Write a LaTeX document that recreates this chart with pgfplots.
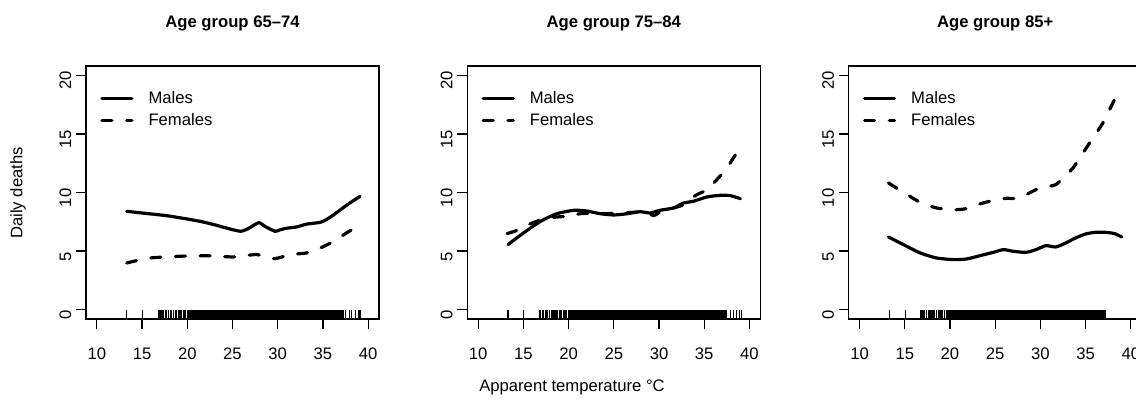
\documentclass[border=0pt]{standalone}
\usepackage{fontspec}
\setmainfont{Liberation Sans}
\usepackage{pgfplots}
\pgfplotsset{compat=1.18}

% apparent temperature of the study days (rug)
\newcommand\rugcore{16.8,16.9,17.1,17.2,17.4,17.6,17.7,17.9,18.1,18.2,18.3,18.5,18.7,18.8,19.0,19.1,19.2,19.4,19.6,19.7,19.8,20.0,20.1,20.2,20.3,20.4,
20.5,20.6,20.7,20.8,20.9,
21.0,21.1,21.2,21.3,21.4,21.5,21.6,21.7,21.8,21.9,
22.0,22.1,22.2,22.3,22.4,22.5,22.6,22.7,22.8,22.9,
23.0,23.1,23.2,23.3,23.4,23.5,23.6,23.7,23.8,23.9,
24.0,24.1,24.2,24.3,24.4,24.5,24.6,24.7,24.8,24.9,
25.0,25.1,25.2,25.3,25.4,25.5,25.6,25.7,25.8,25.9,
26.0,26.1,26.2,26.3,26.4,26.5,26.6,26.7,26.8,26.9,
27.0,27.1,27.2,27.3,27.4,27.5,27.6,27.7,27.8,27.9,
28.0,28.1,28.2,28.3,28.4,28.5,28.6,28.7,28.8,28.9,
29.0,29.1,29.2,29.3,29.4,29.5,29.6,29.7,29.8,29.9,
30.0,30.1,30.2,30.3,30.4,30.5,30.6,30.7,30.8,30.9,
31.0,31.1,31.2,31.3,31.4,31.5,31.6,31.7,31.8,31.9,
32.0,32.1,32.2,32.3,32.4,32.5,32.6,32.7,32.8,32.9,
33.0,33.1,33.2,33.3,33.4,33.5,33.6,33.7,33.8,33.9,
34.0,34.1,34.2,34.3,34.4,34.5,34.6,34.7,34.8,34.9,
35.0,35.1,35.2,35.3,35.4,35.5,35.6,35.7,35.8,35.9,
36.0,36.1,36.2,36.3,36.4,36.5,36.6,36.7,36.8,36.9,
37.0,37.1,37.2}
\newcommand\rugA{13.3,15.0,\rugcore,37.3,37.5,37.9,38.2,38.6,38.9,39.1}
\newcommand\rugB{13.3,15.1,\rugcore}

\pgfplotsset{
  panel/.style={
    scale only axis, width=219.75pt, height=189.75pt,
    xmin=8.8, xmax=41.2, ymin=-0.8, ymax=20.8,
    xtick={10,15,...,40}, ytick={0,5,10,15,20},
    xtick pos=bottom, ytick pos=left,
    tick align=outside, major tick length=7.5pt,
    every tick/.style={black, line width=0.9pt},
    axis line style={line width=1.1pt},
    /pgf/number format/assume math mode=true,
    tick label style={font=\fontsize{12.5}{15}\selectfont},
    yticklabel style={rotate=90, anchor=south, xshift=-4pt},
    xticklabel style={yshift=-10.5pt},
    extra x tick style={tick align=inside, major tick length=6.8pt,
      every tick/.style={black, line width=0.85pt}},
    extra x tick labels={},
    title style={at={(0.5,1)}, anchor=base, yshift=22.5pt,
      font=\bfseries\fontsize{12.5}{15}\selectfont},
    legend image code/.code={\draw[#1] (0pt,0pt) -- (22.5pt,0pt); \path (33.75pt,0pt);},
    legend cell align=left,
    legend style={draw=none, fill=none, at={(0.048,0.90)}, anchor=north west,
      inner sep=0pt, row sep=6pt, font=\fontsize{12.5}{15}\selectfont,
      nodes={inner sep=0pt}},
  },
  males/.style={black, line width=2.4pt, line cap=round, line join=round, smooth, tension=0.4},
  females/.style={black, line width=2.4pt, line cap=round, line join=round,
    dash pattern=on 7.5pt off 11pt, smooth, tension=0.4},
}

\begin{document}
\begin{tikzpicture}[x=0.75pt, y=0.75pt]
\useasboundingbox (0,0) rectangle (1136,402);
\clip (0,0) rectangle (1136,402);

\begin{axis}[panel, at={(64.5pt,62.25pt)}, anchor=south west,
  title={Age group 65--74}, extra x ticks/.expanded=\rugA]
\addplot[males] coordinates {(13.3,8.39)(15.0,8.25)(17.7,8.02)(19.5,7.8)(21.4,7.54)(23.0,7.25)(24.3,6.97)(25.9,6.69)(26.8,6.95)(27.9,7.42)(28.6,7.1)(29.7,6.69)(30.2,6.8)(31.0,6.95)(32.1,7.06)(33.2,7.3)(34.7,7.45)(35.4,7.7)(36.2,8.1)(37.7,8.96)(39.1,9.67)};
\addlegendentry{Males}
\addplot[females] coordinates {(13.3,3.98)(14.5,4.2)(15.9,4.41)(18.9,4.55)(22.2,4.6)(25.1,4.5)(27.7,4.7)(29.6,4.35)(31.4,4.7)(33.2,4.84)(34.7,5.26)(36.2,5.83)(37.3,6.4)(38.2,6.83)};
\addlegendentry{Females}
\end{axis}

\begin{axis}[panel, at={(350.475pt,62.25pt)}, anchor=south west,
  title={Age group 75--84}, extra x ticks/.expanded=\rugA]
\addplot[males] coordinates {(13.3,5.55)(15.0,6.54)(16.9,7.54)(18.7,8.19)(20.6,8.48)(22.0,8.42)(23.5,8.19)(25.0,8.08)(26.5,8.19)(27.9,8.36)(29.0,8.25)(30.1,8.48)(31.6,8.68)(32.7,9.1)(33.8,9.25)(35.3,9.62)(36.8,9.76)(37.9,9.73)(39.0,9.47)};
\addlegendentry{Males}
\addplot[females] coordinates {(13.2,6.49)(14.3,6.77)(15.8,7.34)(17.3,7.74)(18.7,7.91)(19.8,7.97)(21.3,8.19)(22.8,8.25)(24.2,8.19)(25.7,8.25)(27.2,8.31)(28.7,8.39)(29.4,8.02)(30.5,8.53)(31.6,8.68)(32.7,8.96)(34.0,9.73)(35.3,10.24)(36.4,11.1)(37.5,12.09)(38.8,13.66)};
\addlegendentry{Females}
\end{axis}

\begin{axis}[panel, at={(636.525pt,62.25pt)}, anchor=south west,
  title={Age group 85+}, extra x ticks/.expanded=\rugB]
\addplot[males] coordinates {(13.2,6.2)(14.85,5.55)(16.7,4.84)(18.5,4.41)(20.4,4.27)(21.8,4.32)(23.3,4.6)(24.8,4.89)(25.9,5.12)(27.0,4.98)(28.4,4.89)(29.5,5.12)(30.6,5.46)(31.7,5.35)(32.8,5.69)(33.9,6.12)(35.0,6.46)(36.1,6.6)(37.2,6.6)(38.2,6.49)(39.0,6.2)};
\addlegendentry{Males}
\addplot[females] coordinates {(13.2,10.81)(14.85,10.01)(16.7,9.16)(18.5,8.68)(20.4,8.53)(21.8,8.62)(23.3,9.02)(24.8,9.33)(26.2,9.5)(27.3,9.5)(28.4,9.81)(29.5,10.24)(30.6,10.47)(31.7,10.67)(32.5,11.24)(33.6,12.09)(34.7,13.37)(35.8,14.65)(36.9,15.93)(38.4,18.26)};
\addlegendentry{Females}
\end{axis}

\node[rotate=90, font=\fontsize{12.5}{15}\selectfont] at (18,209) {Daily deaths};
\node[font=\fontsize{12.5}{15}\selectfont] at (572,15) {Apparent temperature °C};
\end{tikzpicture}
\end{document}
